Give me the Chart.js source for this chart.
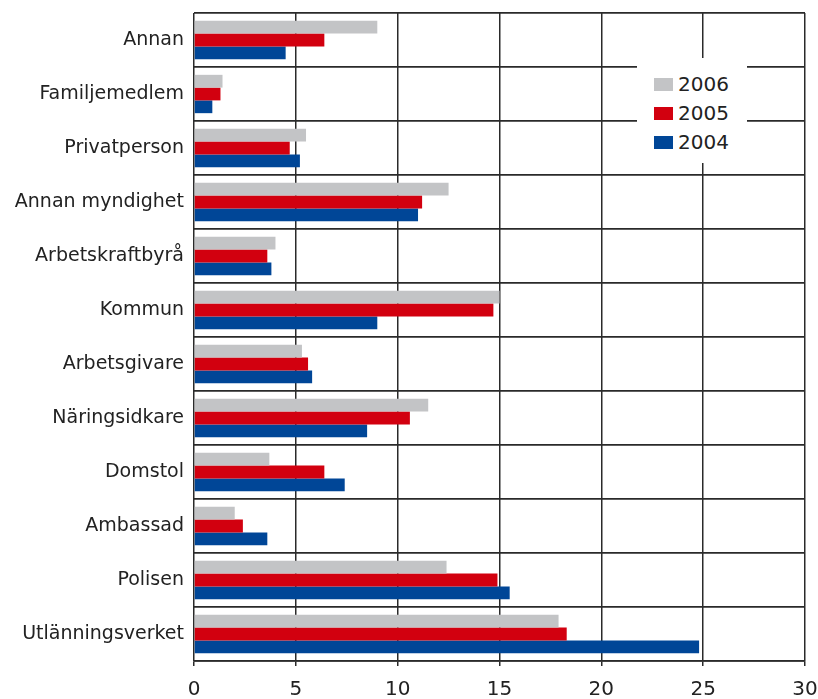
<!DOCTYPE html>
<html>
<head>
<meta charset="utf-8">
<script src="https://cdn.jsdelivr.net/npm/chart.js@4/dist/chart.umd.min.js"></script>
<style>
  html, body { margin: 0; padding: 0; background: #fff; }
  #wrap { position: relative; width: 818px; height: 699px; }
  #legend {
    position: absolute; left: 637px; top: 58px; width: 110px; height: 105px;
    background: #fff; font-family: "DejaVu Sans", sans-serif;
    font-size: 20px; color: #222;
  }
  #legend .item { position: absolute; left: 17px; height: 20px; line-height: 20px; }
  #legend .box { position: absolute; left: 0; top: 4px; width: 19px; height: 13px; }
  #legend .txt { position: absolute; left: 24px; top: 0px; }
</style>
</head>
<body>
<div id="wrap">
  <canvas id="c" width="818" height="699"></canvas>
  <div id="legend"></div>
</div>
<script>
// kategorier, uppifrån och ned
var categories = ["Annan", "Familjemedlem", "Privatperson", "Annan myndighet", "Arbetskraftbyrå",
  "Kommun", "Arbetsgivare", "Näringsidkare", "Domstol", "Ambassad", "Polisen", "Utlänningsverket"];

var values2006 = [9.0, 1.4, 5.5, 12.5, 4.0, 15.0, 5.3, 11.5, 3.7, 2.0, 12.4, 17.9];
var values2005 = [6.4, 1.3, 4.7, 11.2, 3.6, 14.7, 5.6, 10.6, 6.4, 2.4, 14.9, 18.3];
var values2004 = [4.5, 0.9, 5.2, 11.0, 3.8, 9.0, 5.8, 8.5, 7.4, 3.6, 15.5, 24.8];

var xTicks = [0, 5, 10, 15, 20, 25, 30];

var series = [
  { label: "2006", data: values2006, color: "#c3c4c6" },
  { label: "2005", data: values2005, color: "#d2000f" },
  { label: "2004", data: values2004, color: "#004697" }
];

var lineColor = "#2a2a2a";
var fontFamily = '"DejaVu Sans", sans-serif';

function noPadding(scale) {
  scale.paddingTop = 0;
  scale.paddingBottom = 0;
  scale.paddingLeft = 0;
  scale.paddingRight = 0;
}

var chart = new Chart(document.getElementById("c"), {
  type: "bar",
  data: {
    labels: categories,
    datasets: series.map(function (s) {
      return {
        label: s.label,
        data: s.data,
        backgroundColor: s.color,
        borderWidth: 0,
        categoryPercentage: 0.71,
        barPercentage: 1.0
      };
    })
  },
  options: {
    indexAxis: "y",
    responsive: false,
    animation: false,
    layout: { padding: { top: 13, right: 13, left: 0, bottom: 0 } },
    plugins: { legend: { display: false }, tooltip: { enabled: false } },
    scales: {
      x: {
        min: 0, max: 30,
        afterBuildTicks: function (scale) {
          scale.ticks = xTicks.map(function (v) { return { value: v }; });
        },
        afterFit: function (scale) { scale.height = 38; noPadding(scale); },
        grid: { color: lineColor, lineWidth: 1.5, tickLength: 5, drawTicks: true },
        border: { display: true, color: lineColor, width: 1.5 },
        ticks: { color: "#222", font: { family: fontFamily, size: 20 }, padding: 12, maxRotation: 0 }
      },
      y: {
        afterFit: function (scale) { scale.width = 194; noPadding(scale); },
        grid: { color: lineColor, lineWidth: 1.8, offset: true, drawTicks: false },
        border: { display: false },
        ticks: { color: "#222", font: { family: fontFamily, size: 19 }, padding: 10 }
      }
    }
  }
});

// legend som html ovanpå diagrammet
var legend = document.getElementById("legend");
series.forEach(function (s, i) {
  var item = document.createElement("div");
  item.className = "item";
  item.style.top = (16 + i * 29) + "px";
  item.innerHTML = '<span class="box" style="background:' + s.color + '"></span><span class="txt">' + s.label + '</span>';
  legend.appendChild(item);
});
</script>
</body>
</html>
